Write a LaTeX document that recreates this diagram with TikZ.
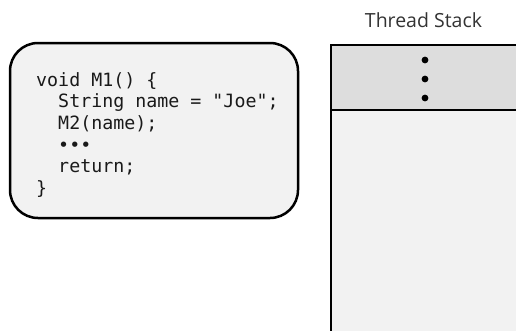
\documentclass[tikz,border=0pt]{standalone}
\usepackage{fontspec}
\setmainfont{Open Sans}
\setmonofont{DejaVu Sans Mono}
\definecolor{boxfill}{HTML}{F2F2F2}
\definecolor{bandfill}{HTML}{DDDDDD}
\definecolor{txt}{HTML}{1A1A1A}
\definecolor{lbl}{HTML}{333333}
\begin{document}
\begin{tikzpicture}[x=1pt,y=-1pt,
  codebox/.style={draw=black, line width=2.5pt, fill=boxfill, rounded corners=28pt},
  codetext/.style={anchor=north west, inner sep=0pt, align=left, text=txt,
    font=\ttfamily\fontsize{18.3}{21.7}\selectfont},
  stacklbl/.style={anchor=base, inner sep=0pt, text=lbl, font=\fontsize{19.5}{22}\selectfont},
  stackdot/.style={circle, fill=black, inner sep=0pt, minimum size=6.8pt},
  border/.style={draw=black, line width=2.8pt}]
\useasboundingbox (0,0) rectangle (516,330);
% code box
\draw[codebox] (10,43) rectangle (298,218);
\node[codetext] (code) at (36,72) {void M1() \{\\
\ \ String name = "Joe";\\
\ \ M2(name);\\
\ \ •••\\
\ \ return;\\
\}};
% stack
\fill[boxfill] (331,110) rectangle (517,331);
\fill[bandfill] (331,45) rectangle (517,110);
\coordinate (topR) at (518,45);
\coordinate (topL) at (331,45);
\coordinate (botL) at (331,332);
\coordinate (divL) at (331,110);
\coordinate (divR) at (518,110);
\draw[border, line join=miter] (topR) -- (topL) -- (botL);
\draw[border] (divL) -- (divR);
\node[stackdot] (d1) at (425,60) {};
\node[stackdot] (d2) at (425,79) {};
\node[stackdot] (d3) at (425,98) {};
\node[stacklbl] (lbl) at (423.5,27.3) {Thread Stack};
\end{tikzpicture}
\end{document}
